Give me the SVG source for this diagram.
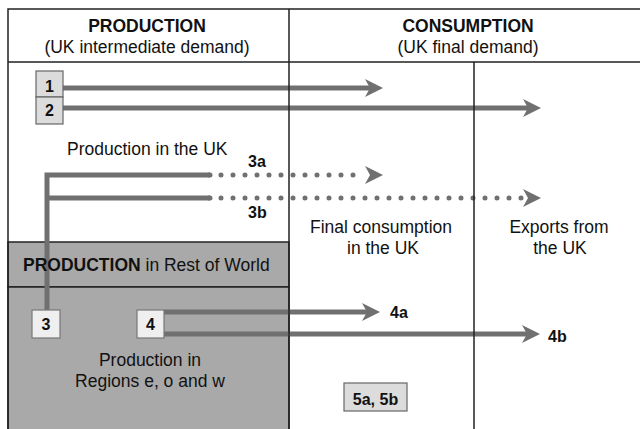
<svg xmlns="http://www.w3.org/2000/svg" width="640" height="429" viewBox="0 0 640 429">
<defs>
<style>
text{font-family:"Liberation Sans",Arial,Helvetica,sans-serif;fill:#111}
.h{font-size:17.5px;font-weight:bold;text-anchor:middle}
.s{font-size:17.5px;text-anchor:middle}
.t{font-size:17.5px}
.n{font-size:16px;font-weight:bold;text-anchor:middle}
.lab{font-size:16px;font-weight:bold}
.frame{fill:none;stroke:#222;stroke-width:1.5}
.region{fill:#a9a9a9;stroke:#222;stroke-width:1.5}
.box1{fill:#dcdcdc;stroke:#666;stroke-width:1.2}
.box3{fill:#efefef;stroke:#777;stroke-width:1.2}
.conn{fill:none;stroke:#707070;stroke-width:5}
.dot{fill:none;stroke:#707070;stroke-width:5;stroke-linecap:round;stroke-dasharray:0 12}
.ahead{fill:none;stroke:none}
</style>
<marker id="arr" markerUnits="userSpaceOnUse" viewBox="0 0 18 18" refX="8" refY="9" markerWidth="18" markerHeight="18" orient="auto">
<path d="M0,0 L18,9 L0,18 L5,9 Z" fill="#707070"/>
</marker>
</defs>
<rect x="0" y="0" width="640" height="429" fill="#fff"/>

<g id="rest-of-world-regions">
<rect class="region" x="8" y="242" width="281" height="45"/>
<rect class="region" x="8" y="287" width="281" height="150"/>
</g>

<g id="connectors">
<path class="conn" d="M63,88 H373" marker-end="url(#arr)"/>
<path class="conn" d="M63,108 H531" marker-end="url(#arr)"/>
<path class="conn" d="M47,310 V175 H210"/>
<path class="conn" d="M47,198 H210"/>
<path class="conn" d="M209,175 H210" stroke-linecap="round"/>
<path class="conn" d="M209,198 H210" stroke-linecap="round"/>
<path class="dot" d="M221,175 H354"/>
<path class="ahead" d="M372,175 H373" marker-end="url(#arr)"/>
<path class="dot" d="M221,198 H522"/>
<path class="ahead" d="M530,198 H531" marker-end="url(#arr)"/>
<path class="conn" d="M164,312 H370" marker-end="url(#arr)"/>
<path class="conn" d="M164,334 H530" marker-end="url(#arr)"/>
</g>

<g id="frame">
<path class="frame" d="M640,9 H8 V429 M8,62 H640 M289,9 V429 M474,62 V429"/>
</g>

<g id="rest-of-world">
<text class="t" x="23" y="271"><tspan font-weight="bold">PRODUCTION</tspan> in Rest of World</text>
</g>
<g id="regions-eow">
<text class="s" x="150" y="366">Production in</text>
<text class="s" x="150" y="387">Regions e, o and w</text>
</g>

<g id="header-production">
<text class="h" x="147" y="32">PRODUCTION</text>
<text class="s" x="147" y="53">(UK intermediate demand)</text>
</g>
<g id="header-consumption">
<text class="h" x="468" y="32">CONSUMPTION</text>
<text class="s" x="468" y="53">(UK final demand)</text>
</g>

<g id="production-uk">
<text class="t" x="67" y="155">Production in the UK</text>
</g>
<g id="final-consumption">
<text class="s" x="381" y="233">Final consumption</text>
<text class="s" x="383" y="254">in the UK</text>
</g>
<g id="exports">
<text class="s" x="559" y="233">Exports from</text>
<text class="s" x="560" y="254">the UK</text>
</g>

<g id="node-1">
<rect class="box1" x="36" y="71" width="27" height="26"/>
<text class="n" x="49.5" y="92">1</text>
</g>
<g id="node-2">
<rect class="box1" x="36" y="97" width="27" height="27"/>
<text class="n" x="49.5" y="116">2</text>
</g>
<g id="node-3">
<rect class="box3" x="32" y="310" width="28" height="28"/>
<text class="n" x="46" y="330">3</text>
</g>
<g id="node-4">
<rect class="box3" x="137" y="310" width="27" height="28"/>
<text class="n" x="150.5" y="330">4</text>
</g>
<g id="node-5">
<rect class="box1" x="344" y="383" width="63" height="28"/>
<text class="n" x="375.5" y="405">5a, 5b</text>
</g>

<g id="labels">
<text class="lab" x="248" y="167">3a</text>
<text class="lab" x="248" y="218">3b</text>
<text class="lab" x="390" y="318">4a</text>
<text class="lab" x="548" y="342">4b</text>
</g>
</svg>
